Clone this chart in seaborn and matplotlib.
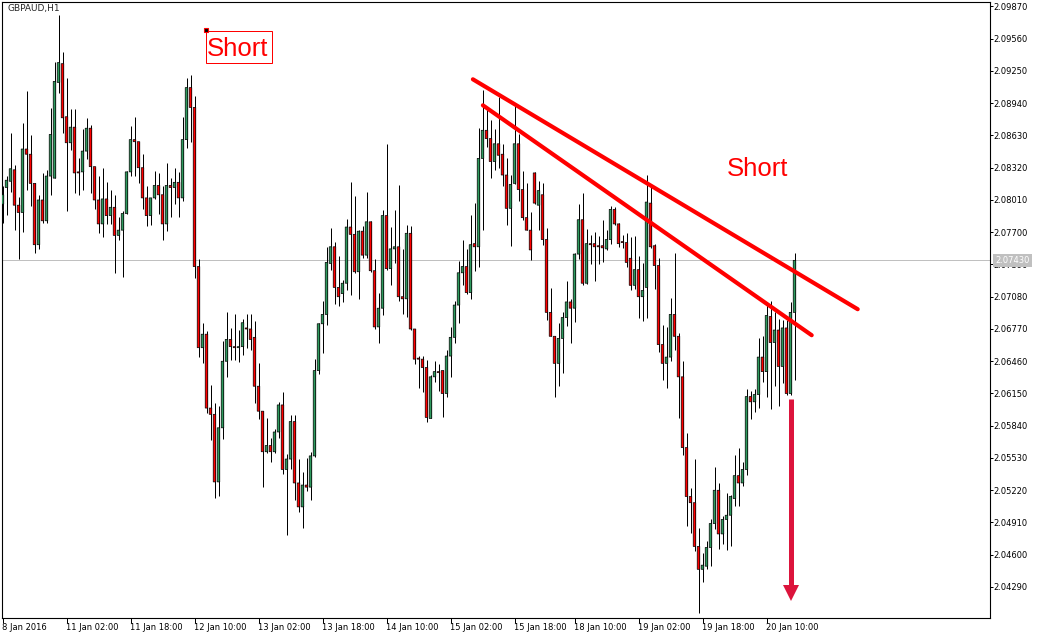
import matplotlib
matplotlib.use("Agg")
import matplotlib.pyplot as plt
from matplotlib.patches import Rectangle
import numpy as np
import seaborn as sns

# GBPAUD H1 candles, bar 0 = 8 Jan 2016
opens = [
    2.0797, 2.0813, 2.0819, 2.0830, 2.0796, 2.0789, 2.0850, 2.0845, 2.0817, 2.0758,
    2.0801, 2.0781, 2.0824, 2.0822, 2.0914, 2.0932, 2.0881, 2.0856, 2.0871, 2.0828,
    2.0828, 2.0848, 2.0870, 2.0833, 2.0801, 2.0778, 2.0802, 2.0786, 2.0794, 2.0767,
    2.0772, 2.0788, 2.0828, 2.0859, 2.0857, 2.0832, 2.0803, 2.0786, 2.0803, 2.0815,
    2.0806, 2.0778, 2.0815, 2.0813, 2.0818, 2.0803, 2.0859, 2.0909, 2.0890, 2.0737,
    2.0659, 2.0672, 2.0601, 2.0595, 2.0530, 2.0582, 2.0646, 2.0667, 2.0660, 2.0659,
    2.0660, 2.0678, 2.0677, 2.0669, 2.0622, 2.0598, 2.0559, 2.0565, 2.0559, 2.0578,
    2.0604, 2.0542, 2.0552, 2.0588, 2.0529, 2.0506, 2.0527, 2.0525, 2.0555, 2.0637,
    2.0682, 2.0691, 2.0740, 2.0756, 2.0717, 2.0711, 2.0721, 2.0775, 2.0768, 2.0732,
    2.0771, 2.0748, 2.0780, 2.0733, 2.0679, 2.0697, 2.0786, 2.0735, 2.0754, 2.0756,
    2.0708, 2.0706, 2.0769, 2.0677, 2.0649, 2.0648, 2.0640, 2.0591, 2.0631, 2.0636,
    2.0637, 2.0615, 2.0651, 2.0669, 2.0700, 2.0731, 2.0737, 2.0712, 2.0759, 2.0756,
    2.0841, 2.0868, 2.0860, 2.0838, 2.0855, 2.0845, 2.0825, 2.0793, 2.0817, 2.0855,
    2.0811, 2.0784, 2.0772, 2.0827, 2.0796, 2.0806, 2.0763, 2.0693, 2.0670, 2.0644,
    2.0668, 2.0688, 2.0703, 2.0697, 2.0749, 2.0782, 2.0721, 2.0759, 2.0759, 2.0757,
    2.0757, 2.0754, 2.0763, 2.0792, 2.0778, 2.0761, 2.0760, 2.0745, 2.0719, 2.0734,
    2.0708, 2.0717, 2.0798, 2.0757, 2.0738, 2.0662, 2.0644, 2.0650, 2.0691, 2.0670,
    2.0631, 2.0563, 2.0516, 2.0510, 2.0468, 2.0446, 2.0449, 2.0467, 2.0490, 2.0522,
    2.0480, 2.0494, 2.0498, 2.0514, 2.0536, 2.0529, 2.0542, 2.0612, 2.0607, 2.0614,
    2.0650, 2.0636, 2.0689, 2.0664, 2.0676, 2.0641, 2.0678, 2.0615, 2.0693,
]
highs = [
    2.0814, 2.0824, 2.0865, 2.0835, 2.0804, 2.0875, 2.0906, 2.0863, 2.0817, 2.0806,
    2.0827, 2.0830, 2.0889, 2.0934, 2.0979, 2.0943, 2.0918, 2.0888, 2.0888, 2.0841,
    2.0869, 2.0880, 2.0873, 2.0833, 2.0824, 2.0832, 2.0818, 2.0811, 2.0806, 2.0785,
    2.0790, 2.0829, 2.0872, 2.0881, 2.0857, 2.0845, 2.0814, 2.0803, 2.0829, 2.0827,
    2.0814, 2.0837, 2.0822, 2.0832, 2.0828, 2.0881, 2.0918, 2.0921, 2.0901, 2.0744,
    2.0683, 2.0675, 2.0623, 2.0606, 2.0603, 2.0665, 2.0693, 2.0678, 2.0691, 2.0676,
    2.0687, 2.0691, 2.0691, 2.0685, 2.0644, 2.0598, 2.0591, 2.0572, 2.0581, 2.0607,
    2.0616, 2.0557, 2.0594, 2.0594, 2.0552, 2.0540, 2.0553, 2.0559, 2.0648, 2.0683,
    2.0704, 2.0756, 2.0774, 2.0761, 2.0747, 2.0724, 2.0783, 2.0818, 2.0805, 2.0772,
    2.0776, 2.0809, 2.0781, 2.0744, 2.0712, 2.0791, 2.0855, 2.0775, 2.0791, 2.0815,
    2.0754, 2.0777, 2.0776, 2.0677, 2.0651, 2.0651, 2.0647, 2.0633, 2.0646, 2.0643,
    2.0638, 2.0657, 2.0679, 2.0704, 2.0742, 2.0763, 2.0754, 2.0787, 2.0798, 2.0870,
    2.0907, 2.0888, 2.0878, 2.0869, 2.0900, 2.0855, 2.0841, 2.0825, 2.0894, 2.0864,
    2.0829, 2.0817, 2.0789, 2.0828, 2.0819, 2.0817, 2.0774, 2.0716, 2.0670, 2.0683,
    2.0693, 2.0723, 2.0706, 2.0750, 2.0797, 2.0808, 2.0773, 2.0767, 2.0770, 2.0766,
    2.0782, 2.0772, 2.0795, 2.0794, 2.0779, 2.0767, 2.0769, 2.0765, 2.0766, 2.0747,
    2.0740, 2.0825, 2.0814, 2.0759, 2.0745, 2.0681, 2.0679, 2.0707, 2.0750, 2.0673,
    2.0646, 2.0577, 2.0524, 2.0552, 2.0486, 2.0462, 2.0473, 2.0494, 2.0544, 2.0529,
    2.0497, 2.0519, 2.0517, 2.0556, 2.0563, 2.0549, 2.0619, 2.0617, 2.0619, 2.0668,
    2.0670, 2.0700, 2.0704, 2.0693, 2.0687, 2.0686, 2.0686, 2.0703, 2.0750,
]
lows = [
    2.0779, 2.0787, 2.0809, 2.0772, 2.0744, 2.0770, 2.0811, 2.0795, 2.0750, 2.0754,
    2.0779, 2.0779, 2.0806, 2.0822, 2.0904, 2.0865, 2.0790, 2.0849, 2.0808, 2.0806,
    2.0811, 2.0840, 2.0808, 2.0792, 2.0769, 2.0765, 2.0778, 2.0778, 2.0731, 2.0763,
    2.0727, 2.0788, 2.0824, 2.0824, 2.0817, 2.0792, 2.0776, 2.0777, 2.0802, 2.0788,
    2.0763, 2.0771, 2.0785, 2.0797, 2.0785, 2.0800, 2.0851, 2.0857, 2.0726, 2.0650,
    2.0644, 2.0596, 2.0570, 2.0515, 2.0516, 2.0571, 2.0631, 2.0647, 2.0647, 2.0645,
    2.0652, 2.0659, 2.0657, 2.0606, 2.0590, 2.0525, 2.0558, 2.0549, 2.0558, 2.0572,
    2.0538, 2.0479, 2.0542, 2.0513, 2.0501, 2.0486, 2.0521, 2.0513, 2.0554, 2.0634,
    2.0654, 2.0681, 2.0734, 2.0701, 2.0699, 2.0703, 2.0714, 2.0710, 2.0731, 2.0706,
    2.0745, 2.0745, 2.0732, 2.0677, 2.0664, 2.0690, 2.0734, 2.0719, 2.0740, 2.0704,
    2.0691, 2.0689, 2.0676, 2.0643, 2.0620, 2.0616, 2.0588, 2.0591, 2.0626, 2.0617,
    2.0592, 2.0612, 2.0631, 2.0664, 2.0683, 2.0719, 2.0711, 2.0706, 2.0733, 2.0737,
    2.0772, 2.0852, 2.0822, 2.0830, 2.0832, 2.0814, 2.0777, 2.0757, 2.0816, 2.0800,
    2.0782, 2.0772, 2.0743, 2.0797, 2.0772, 2.0758, 2.0686, 2.0670, 2.0612, 2.0622,
    2.0635, 2.0680, 2.0664, 2.0684, 2.0744, 2.0719, 2.0720, 2.0739, 2.0723, 2.0739,
    2.0741, 2.0753, 2.0759, 2.0777, 2.0756, 2.0755, 2.0737, 2.0714, 2.0715, 2.0688,
    2.0685, 2.0688, 2.0755, 2.0715, 2.0655, 2.0628, 2.0620, 2.0646, 2.0657, 2.0591,
    2.0556, 2.0488, 2.0481, 2.0464, 2.0404, 2.0434, 2.0446, 2.0449, 2.0485, 2.0466,
    2.0470, 2.0465, 2.0468, 2.0507, 2.0507, 2.0526, 2.0537, 2.0590, 2.0597, 2.0601,
    2.0626, 2.0612, 2.0600, 2.0622, 2.0603, 2.0625, 2.0614, 2.0614, 2.0628,
]
closes = [
    2.0806, 2.0820, 2.0831, 2.0796, 2.0789, 2.0850, 2.0845, 2.0817, 2.0758, 2.0801,
    2.0781, 2.0824, 2.0864, 2.0915, 2.0933, 2.0880, 2.0856, 2.0871, 2.0827, 2.0827,
    2.0848, 2.0870, 2.0833, 2.0801, 2.0778, 2.0802, 2.0786, 2.0794, 2.0767, 2.0772,
    2.0788, 2.0828, 2.0859, 2.0857, 2.0832, 2.0803, 2.0786, 2.0803, 2.0815, 2.0806,
    2.0778, 2.0815, 2.0813, 2.0818, 2.0803, 2.0859, 2.0909, 2.0890, 2.0737, 2.0659,
    2.0672, 2.0601, 2.0595, 2.0530, 2.0582, 2.0646, 2.0667, 2.0660, 2.0659, 2.0660,
    2.0683, 2.0677, 2.0667, 2.0622, 2.0598, 2.0559, 2.0565, 2.0559, 2.0578, 2.0604,
    2.0542, 2.0552, 2.0588, 2.0529, 2.0506, 2.0527, 2.0525, 2.0555, 2.0637, 2.0682,
    2.0691, 2.0741, 2.0756, 2.0717, 2.0708, 2.0721, 2.0775, 2.0768, 2.0732, 2.0771,
    2.0748, 2.0780, 2.0733, 2.0679, 2.0697, 2.0786, 2.0735, 2.0754, 2.0756, 2.0708,
    2.0706, 2.0769, 2.0677, 2.0648, 2.0648, 2.0640, 2.0592, 2.0631, 2.0636, 2.0635,
    2.0615, 2.0651, 2.0669, 2.0700, 2.0731, 2.0737, 2.0712, 2.0758, 2.0756, 2.0841,
    2.0868, 2.0860, 2.0838, 2.0855, 2.0844, 2.0825, 2.0793, 2.0816, 2.0855, 2.0811,
    2.0784, 2.0772, 2.0753, 2.0798, 2.0810, 2.0763, 2.0693, 2.0670, 2.0644, 2.0668,
    2.0688, 2.0703, 2.0697, 2.0749, 2.0782, 2.0721, 2.0759, 2.0758, 2.0756, 2.0756,
    2.0755, 2.0763, 2.0792, 2.0778, 2.0759, 2.0760, 2.0741, 2.0719, 2.0734, 2.0708,
    2.0714, 2.0799, 2.0756, 2.0738, 2.0662, 2.0644, 2.0650, 2.0691, 2.0670, 2.0631,
    2.0563, 2.0516, 2.0510, 2.0468, 2.0446, 2.0450, 2.0467, 2.0490, 2.0522, 2.0480,
    2.0494, 2.0498, 2.0516, 2.0536, 2.0529, 2.0542, 2.0612, 2.0607, 2.0614, 2.0650,
    2.0636, 2.0690, 2.0664, 2.0676, 2.0641, 2.0678, 2.0615, 2.0693, 2.0743,
]

time_tick_bars = [0, 16, 32, 48, 64, 80, 96, 112, 128, 143, 159, 175, 191]
time_tick_labels = ["8 Jan 2016", "11 Jan 02:00", "11 Jan 18:00", "12 Jan 10:00",
                    "13 Jan 02:00", "13 Jan 18:00", "14 Jan 10:00", "15 Jan 02:00",
                    "15 Jan 18:00", "18 Jan 10:00", "19 Jan 02:00", "19 Jan 18:00",
                    "20 Jan 10:00"]
price_ticks = [2.09870, 2.09560, 2.09250, 2.08940, 2.08630, 2.08320, 2.08010,
               2.07700, 2.07390, 2.07080, 2.06770, 2.06460, 2.06150, 2.05840,
               2.05530, 2.05220, 2.04910, 2.04600, 2.04290]

# drawn trend lines (bar index, price)
upper_line_x = [117.6, 213.8]
upper_line_y = [2.0917, 2.0696]
lower_line_x = [120.1, 202.3]
lower_line_y = [2.0892, 2.0671]
# target arrow (bar index, start price, end price)
arrow_bar = 197
arrow_from = 2.0610
arrow_to = 2.0415

GREEN = "#2E9A5E"
RED = "#FF0000"
CRIMSON = "#DC143C"

sns.set_theme(style="white")
plt.rcParams["font.family"] = ["DejaVu Sans"]

W, H = 1043, 639
fig = plt.figure(figsize=(W / 100, H / 100), dpi=100)
ax = fig.add_axes([2 / W, 21 / H, 988 / W, 616 / H])

o = np.array(opens)
h = np.array(highs)
l = np.array(lows)
c = np.array(closes)
x = np.arange(len(o))
up = c >= o

# wicks and bodies
PX = 0.72
ax.vlines(x, l, h, color="black", lw=PX, zorder=2)
ax.bar(x[up], (c - o)[up], bottom=o[up], width=0.64, color=GREEN,
       edgecolor="black", linewidth=0.5, zorder=3, snap=False)
ax.bar(x[~up], (o - c)[~up], bottom=c[~up], width=0.64, color=RED,
       edgecolor="black", linewidth=0.5, zorder=3, snap=False)

# current price line
last = closes[-1]
ax.axhline(last, color="#C0C0C0", lw=PX, zorder=1)

# trend lines
sns.lineplot(x=upper_line_x, y=upper_line_y, ax=ax, color=RED, lw=3, zorder=4)
sns.lineplot(x=lower_line_x, y=lower_line_y, ax=ax, color=RED, lw=3, zorder=4)

# arrow
ax.plot([arrow_bar, arrow_bar], [arrow_from, arrow_to + 0.0016], color=CRIMSON,
        lw=3.6, solid_capstyle="butt", zorder=5)
ax.plot([arrow_bar], [arrow_to + 0.0008], marker="v", ms=12, color=CRIMSON,
        mew=0, zorder=5)

# "Short" labels
ax.add_patch(Rectangle((50.8, 2.0933), 16.5, 0.00308, fill=False,
                       ec=RED, lw=PX, zorder=6))
ax.plot([50.8], [2.0964], marker="s", ms=3.2, mfc="black", mec=RED, mew=0.8, zorder=7)
ax.text(51.0, 2.0939, "Short", color=RED, fontsize=18.5,
        family="Liberation Sans", ha="left", va="baseline", zorder=6)
ax.text(181.0, 2.0824, "Short", color=RED, fontsize=18.5,
        family="Liberation Sans", ha="left", va="baseline", zorder=6)

# axes
ax.set_xlim(-0.125, 246.875)
ax.set_ylim(2.03992, 2.09913)
ax.yaxis.tick_right()
ax.set_yticks(price_ticks, labels=[f"{v:.5f}" for v in price_ticks])
ax.set_xticks(time_tick_bars, labels=time_tick_labels, ha="left")
ax.tick_params(axis="y", which="major", direction="out", length=2.2, width=PX,
               pad=0.3, labelsize=6, colors="black", right=True, left=False)
ax.tick_params(axis="x", which="major", direction="out", length=3.6, width=PX,
               pad=0.3, labelsize=6, colors="black", bottom=True, top=False)
for s in ax.spines.values():
    s.set_color("black")
    s.set_linewidth(0.8)
ax.set_xlabel("")
ax.set_ylabel("")

# current price tag on the scale
ax.text(1.0054, last, f"{last:.5f}", transform=ax.get_yaxis_transform(),
        color="white", fontsize=6, ha="left", va="center", clip_on=False, zorder=10,
        bbox=dict(boxstyle="square,pad=0.25", fc="#C0C0C0", ec="none"))

fig.text(7 / W, 1 - 4 / H, "GBPAUD,H1", fontsize=6.5, ha="left", va="top")

fig.savefig("out.png", dpi=100)
